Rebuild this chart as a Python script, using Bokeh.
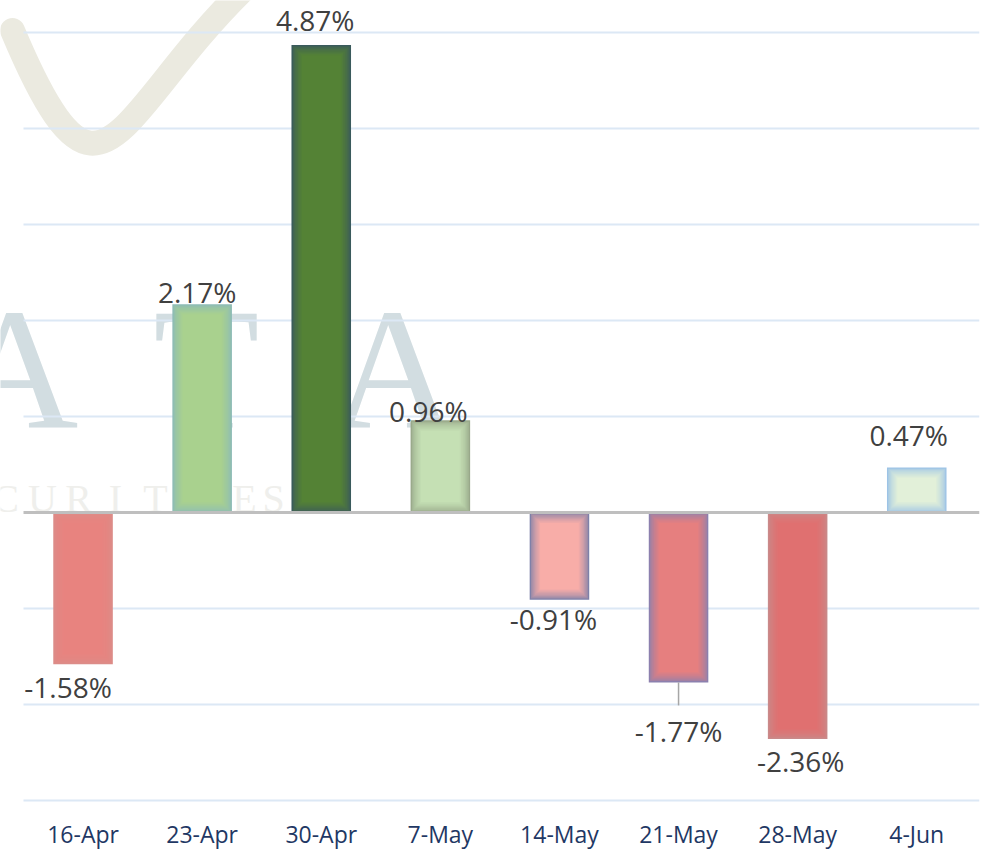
from bokeh.plotting import figure
from bokeh.models import Range1d, ColumnDataSource, Label, FixedTicker
from bokeh.core.properties import value
from bokeh.embed import file_html
from bokeh.resources import INLINE

# ---------------- data ----------------
dates = ["16-Apr", "23-Apr", "30-Apr", "7-May", "14-May", "21-May", "28-May", "4-Jun"]
changes = [-1.58, 2.17, 4.87, 0.96, -0.91, -1.77, -2.36, 0.47]
labels = ["-1.58%", "2.17%", "4.87%", "0.96%", "-0.91%", "-1.77%", "-2.36%", "0.47%"]
grid_values = [-3, -2, -1, 1, 2, 3, 4, 5]

# ---------------- styles ----------------
center_colors = ["#E8837F", "#A9D18E", "#548235", "#C5E0B4", "#F8ADA8", "#E67F7F", "#E07070", "#E2F0D9"]
edge_colors = ["#DC8C88", "#8CBBB6", "#3A5A5C", "#98A88A", "#7E80A8", "#8C80AE", "#C98A8A", "#9DC3E6"]
label_dx = [-15, -5, -6, -12, -6, 0, 3, -8]      # px
label_dy = [23, -12, -25, -9, 19, 49, 22, -32]    # px, + is down

xs = list(range(len(dates)))          # category slots

# layout (pixels)
FRAME_W, FRAME_H = 979, 808
PX_X = 119.1                          # px per category slot
LEFT_GAP = 23                         # empty px left of first slot
PX_Y = 96.0                           # px per 1 %
ZERO_Y = 512                          # px from top
X0 = -0.5 - LEFT_GAP / PX_X
X1 = X0 + FRAME_W / PX_X
YMAX = ZERO_Y / PX_Y
YMIN = YMAX - FRAME_H / PX_Y
BAR_W = 0.5

p = figure(x_range=Range1d(X0, X1), y_range=Range1d(YMIN, YMAX),
           frame_width=FRAME_W, frame_height=FRAME_H,
           output_backend="svg", toolbar_location=None,
           min_border_left=0, min_border_right=8, min_border_top=0, min_border_bottom=0,
           background_fill_color="white", border_fill_color="white")
p.outline_line_color = None
p.xgrid.visible = False
p.ygrid.visible = False
p.yaxis.visible = False

# pixel ranges for watermark decoration (x, y measured from top-left)
p.extra_x_ranges = {"px": Range1d(0, FRAME_W)}
p.extra_y_ranges = {"py": Range1d(FRAME_H, 0)}

# ----- watermark -----
p.bezier(x0=[12], y0=[30], x1=[242], y1=[-10],
         cx0=[100], cy0=[240], cx1=[115], cy1=[115],
         line_color="#EBEAE0", line_width=25, line_cap="round",
         x_range_name="px", y_range_name="py", level="image")
for ch, cx in [("A", 15), ("T", 206), ("A", 393)]:
    p.add_layout(Label(x=cx, y=369, text=ch, x_range_name="px", y_range_name="py",
                       text_font="Liberation Serif", text_font_size="174px",
                       text_color="#D2DDE1", text_align="center",
                       text_baseline="alphabetic", level="image"))
for ch, cx in zip("CURITIES", [5, 42, 78, 115, 155, 200, 244, 273]):
    p.add_layout(Label(x=cx, y=498, text=ch, x_range_name="px", y_range_name="py",
                       text_font="Liberation Serif", text_font_size="40px",
                       text_color="#EFEFEC", text_align="center",
                       text_baseline="alphabetic", level="image"))

# ----- horizontal grid lines (start at the category area) -----
p.segment(x0=[-0.5] * len(grid_values), y0=grid_values,
          x1=[X1] * len(grid_values), y1=grid_values,
          line_color="#DCE8F5", line_width=2, level="underlay")

# ----- bars with soft edge shading -----
def mix(c1, c2, t):
    a = [int(c1[i:i + 2], 16) for i in (1, 3, 5)]
    b = [int(c2[i:i + 2], 16) for i in (1, 3, 5)]
    return "#%02x%02x%02x" % tuple(round(a[j] + (b[j] - a[j]) * t) for j in range(3))

N = 9
STEP = 1.3
for k in range(N):
    inset = k * STEP
    t = (k / (N - 1)) ** 0.65
    tops, bottoms, cols = [], [], []
    for v, ce, ed in zip(changes, center_colors, edge_colors):
        if v >= 0:
            tops.append(v - inset / PX_Y)
            bottoms.append(inset / PX_Y)
        else:
            tops.append(-inset / PX_Y)
            bottoms.append(v + inset / PX_Y)
        cols.append(mix(ed, ce, t))
    src = ColumnDataSource(dict(x=xs, top=tops, bottom=bottoms, c=cols))
    p.vbar(x="x", top="top", bottom="bottom", width=BAR_W - 2 * inset / PX_X,
           fill_color="c", line_color=None, source=src)

# zero line
p.segment(x0=[-0.5], y0=[0], x1=[X1], y1=[0], line_color="#BFBFBF", line_width=3)

# leader line for 21-May label
i21 = dates.index("21-May")
p.segment(x0=[xs[i21]], y0=[changes[i21]], x1=[xs[i21]], y1=[changes[i21] - 23 / PX_Y],
          line_color="#A6A6A6", line_width=1.5)

# data labels
lsrc = ColumnDataSource(dict(x=xs, y=changes, t=labels, dx=label_dx, dy=label_dy))
p.text(x="x", y="y", text="t", x_offset="dx", y_offset="dy", source=lsrc,
       text_align="center", text_baseline="middle",
       text_font=value("Open Sans"), text_font_size="28px", text_color="#404040")

# x axis
ax = p.xaxis[0]
ax.ticker = FixedTicker(ticks=xs)
ax.major_label_overrides = {i: d for i, d in zip(xs, dates)}
ax.axis_line_color = None
ax.major_tick_line_color = None
ax.minor_tick_line_color = None
ax.major_label_standoff = 3
ax.major_label_text_font = "Open Sans"
ax.major_label_text_font_size = "23px"
ax.major_label_text_color = "#1F3864"

open("out.html", "w").write(file_html(p, INLINE))
